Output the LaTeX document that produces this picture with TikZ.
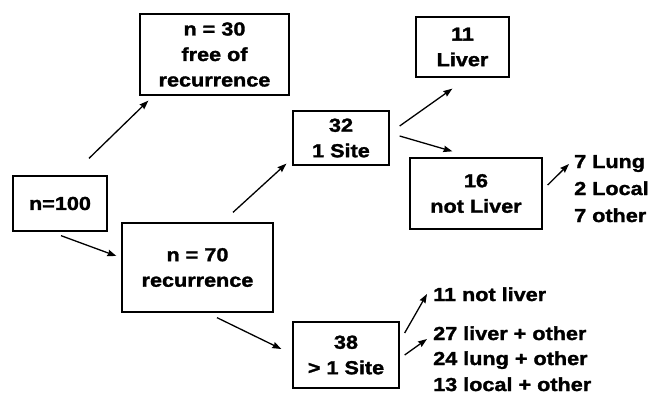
\documentclass[tikz,border=0pt]{standalone}
\usepackage{fontspec}
\setmainfont{Liberation Sans}[FakeStretch=1.15,BoldFeatures={FakeBold=1.6}]
\usetikzlibrary{arrows.meta}
\begin{document}
\begin{tikzpicture}[x=1pt,y=-1pt,
  lab/.style={font=\bfseries\fontsize{18.8}{25.5}\selectfont},
  box/.style={draw, line width=1.3pt, inner sep=0pt, align=center, lab},
  side/.style={inner sep=0pt, anchor=base west, lab},
  conn/.style={line width=1.3pt, -{Stealth[length=9pt,width=6.5pt,inset=1pt]}}]
\useasboundingbox (0,0) rectangle (661,394);
\node[box, minimum width=94pt, minimum height=55pt] (A) at (60,203.5) {n=100};
\node[box, minimum width=149pt, minimum height=81pt] (B) at (214.5,54.5) {n = 30\\free of\\recurrence};
\node[box, minimum width=151pt, minimum height=89pt] (C) at (197.5,267.5) {n = 70\\recurrence};
\node[box, minimum width=96pt, minimum height=54pt] (D) at (341,138) {32\\1 Site};
\node[box, minimum width=93pt, minimum height=60pt] (E) at (462.5,47) {11\\Liver};
\node[box, minimum width=132pt, minimum height=71pt] (F) at (476,193.5) {16\\not Liver};
\node[box, minimum width=106pt, minimum height=66pt] (G) at (346,355) {38\\> 1 Site};
\node[side] (lung) at (574,168) {7 Lung};
\node[side] (local) at (574,195) {2 Local};
\node[side] (oth) at (574,222) {7 other};
\node[side] (nl) at (433,301) {11 not liver};
\node[side] (lo) at (433,340) {27 liver + other};
\node[side] (lu) at (433,365) {24 lung + other};
\node[side] (lc) at (433,391) {13 local + other};
\draw[conn] ([shift={(29,-17)}]A.north) -- ([shift={(9,5)}]B.south west);
\draw[conn] ([shift={(1,4)}]A.south) -- ([shift={(-5,-11.5)}]C.west);
\draw[conn] ([shift={(35.5,-10)}]C.north) -- ([shift={(-6,-2)}]D.south west);
\draw[conn] ([shift={(19.5,5)}]C.south) -- ([shift={(-11,-6)}]G.west);
\draw[conn] ([shift={(10,-12)}]D.east) -- ([shift={(37,11)}]E.south west);
\draw[conn] ([shift={(10,-2)}]D.east) -- ([shift={(43,-6)}]F.north west);
\draw[conn] ([shift={(5,-8.5)}]F.east) -- ([shift={(-5,-4)}]lung.base west);
\draw[conn] ([shift={(5,-22)}]G.east) -- ([shift={(-6,-7)}]nl.base west);
\draw[conn] ([shift={(5,0)}]G.east) -- ([shift={(-6,-1)}]lo.base west);
\end{tikzpicture}
\end{document}
